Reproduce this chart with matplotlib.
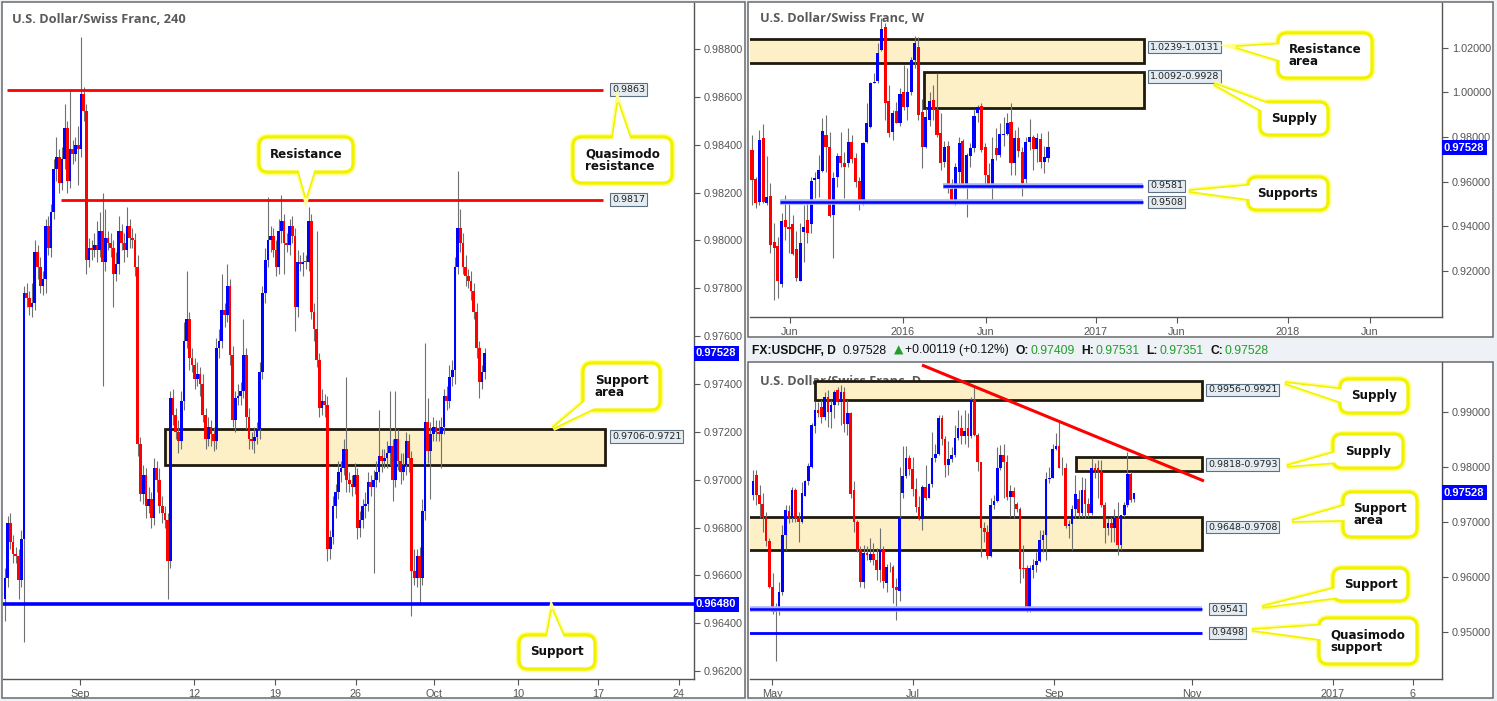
import matplotlib
matplotlib.use("Agg")
import matplotlib.pyplot as plt
import matplotlib.transforms as mtransforms
from matplotlib.patches import Rectangle, FancyBboxPatch, Polygon
from matplotlib.offsetbox import TextArea, HPacker, AnnotationBbox

plt.rcParams["font.family"] = ["Liberation Sans", "DejaVu Sans"]

W, H = 1497, 701
BLUE = "#0000ff"
RED = "#ff0000"
WICK = "#707070"
GRID_TXT = "#555555"
ZONE_FACE = "#fdefc6"
ZONE_EDGE = "#1f1a0e"
GREEN = "#1f9e2a"

# ---------------- 4H data (prices x 1e-4), open of first candle, then closes ----------------
OPEN0_4H = 9650
CLOSE_4H = [
    9659, 9682, 9674, 9669, 9668, 9658, 9675, 9778, 9776, 9772,
    9774, 9795, 9789, 9781, 9784, 9806, 9797, 9812, 9830, 9835,
    9824, 9834, 9847, 9825, 9838, 9836, 9840, 9838, 9861, 9854,
    9792, 9797, 9796, 9798, 9796, 9804, 9791, 9801, 9799, 9797,
    9786, 9790, 9804, 9799, 9796, 9806, 9801, 9800, 9789, 9715,
    9694, 9702, 9689, 9692, 9684, 9705, 9700, 9689, 9686, 9683,
    9666, 9734, 9727, 9720, 9716, 9733, 9758, 9767, 9751, 9748,
    9742, 9744, 9740, 9727, 9717, 9722, 9719, 9716, 9755, 9758,
    9771, 9769, 9781, 9752, 9725, 9734, 9735, 9737, 9752, 9726,
    9717, 9716, 9718, 9721, 9745, 9778, 9792, 9800, 9802, 9796,
    9789, 9804, 9808, 9799, 9798, 9806, 9802, 9772, 9791, 9790,
    9791, 9791, 9808, 9770, 9763, 9750, 9730, 9733, 9731, 9671,
    9676, 9689, 9695, 9703, 9705, 9713, 9700, 9698, 9697, 9702,
    9680, 9683, 9689, 9690, 9699, 9697, 9700, 9703, 9710, 9708,
    9709, 9711, 9714, 9700, 9717, 9708, 9703, 9706, 9716, 9709,
    9662, 9659, 9668, 9659, 9687, 9724, 9712, 9719, 9722, 9720,
    9719, 9722, 9735, 9733, 9743, 9746, 9789, 9805, 9799, 9789,
    9785, 9783, 9779, 9770, 9755, 9741, 9745, 9753,
]
# wick lengths beyond the body, in pips
UPWICK_4H = [
    4, 3, 4, 3, 3, 3, 4, 3, 4, 3, 8, 5, 3, 4, 3, 3, 4, 3, 4, 8,
    3, 5, 10, 3, 25, 4, 3, 8, 24, 3, 3, 4, 3, 5, 10, 8, 16, 12, 3, 4,
    3, 5, 6, 3, 4, 8, 3, 4, 3, 5, 3, 4, 3, 5, 3, 4, 3, 5, 4, 3,
    3, 3, 4, 3, 5, 4, 8, 20, 3, 4, 3, 5, 3, 4, 3, 4, 3, 3, 4, 5,
    15, 3, 9, 3, 4, 3, 5, 4, 15, 3, 4, 3, 4, 3, 4, 3, 5, 18, 4, 3,
    4, 5, 11, 3, 4, 3, 4, 3, 5, 3, 4, 3, 6, 3, 4, 41, 3, 5, 3, 4,
    3, 4, 3, 5, 3, 4, 30, 3, 4, 5, 3, 4, 3, 5, 4, 3, 4, 5, 19, 3,
    4, 5, 23, 3, 20, 4, 3, 5, 4, 3, 3, 9, 3, 4, 5, 33, 10, 5, 4, 3,
    5, 4, 3, 4, 5, 4, 4, 24, 8, 4, 5, 3, 4, 3, 4, 3, 3, 2,
]
DNWICK_4H = [
    9, 4, 3, 4, 3, 8, 3, 43, 4, 3, 4, 3, 5, 3, 4, 6, 3, 4, 3, 5,
    4, 3, 4, 5, 3, 4, 3, 15, 3, 4, 6, 3, 4, 3, 5, 3, 52, 4, 3, 4,
    14, 3, 4, 3, 5, 3, 4, 3, 4, 5, 3, 4, 5, 3, 4, 3, 5, 3, 4, 3,
    16, 3, 4, 3, 5, 3, 4, 3, 5, 3, 4, 3, 5, 3, 4, 3, 5, 4, 3, 4,
    3, 5, 3, 4, 3, 5, 3, 4, 3, 5, 4, 3, 5, 3, 4, 3, 4, 3, 5, 3,
    4, 3, 5, 13, 3, 4, 3, 10, 4, 3, 5, 3, 4, 3, 5, 3, 4, 3, 5, 5,
    4, 3, 5, 3, 4, 3, 5, 3, 4, 3, 5, 4, 3, 5, 3, 4, 36, 3, 4, 5,
    3, 4, 5, 9, 3, 4, 5, 3, 4, 6, 19, 3, 4, 11, 3, 4, 5, 20, 3, 4,
    3, 14, 3, 4, 3, 4, 6, 3, 4, 3, 4, 3, 4, 3, 4, 7, 3, 3,
]
LEVELS_4H_RED = [0.9863, 0.9817]
SUPPORT_4H = 0.9648
ZONE_4H = (0.9706, 0.9721)
LAST_PRICE = 0.97528
TICKS_4H_Y = [0.962, 0.964, 0.966, 0.968, 0.970, 0.972, 0.974, 0.976,
              0.978, 0.980, 0.982, 0.984, 0.986, 0.988]
TICKS_4H_LBL = ["Sep", "12", "19", "26", "Oct", "10", "17", "24"]

# ---------------- Weekly OHLC (x 1e-4) ----------------
W_OPEN = [9742, 9611, 9511, 9794, 9503, 9536, 9332, 9312, 9142, 9429,
          9396, 9411, 9297, 9156, 9376, 9429, 9409, 9608, 9611, 9648,
          9809, 9754, 9451, 9623, 9715, 9685, 9682, 9779, 9705, 9603,
          9503, 9779, 9846, 10043, 10051, 10190, 10291, 9961, 9824, 9918,
          9864, 10003, 9936, 10003, 10145, 10205, 9914, 9757, 9876, 9966,
          9924, 9817, 9690, 9760, 9566, 9511, 9645, 9782, 9578, 9715,
          9749, 9906, 9939, 9757, 9630, 9585, 9750, 9720, 9809, 9814,
          9869, 9682, 9794, 9735, 9611, 9779, 9799, 9745, 9790, 9690,
          9705]
W_HIGH = [9809, 9623, 9832, 9858, 9715, 9593, 9414, 9354, 9458, 9541,
          9503, 9451, 9381, 9414, 9496, 9511, 9623, 9645, 9720, 9884,
          9899, 9824, 9645, 9727, 9824, 9735, 9839, 9809, 9727, 9623,
          9779, 9951, 10048, 10085, 10220, 10333, 10309, 10033, 9920, 9958,
          10018, 10123, 10108, 10160, 10252, 10246, 9969, 9929, 10003, 10033,
          10088, 9909, 9784, 9784, 9611, 9682, 9799, 9790, 9727, 9772,
          9924, 9943, 9954, 9775, 9682, 9802, 9839, 9861, 9891, 9906,
          9951, 9832, 9844, 9757, 9802, 9881, 9809, 9817, 9817, 9760,
          9827]
W_LOW = [9496, 9481, 9496, 9503, 9496, 9279, 9071, 9078, 9130, 9339,
         9279, 9272, 9153, 9153, 9242, 9324, 9369, 9526, 9533, 9645,
         9645, 9444, 9257, 9578, 9667, 9526, 9667, 9682, 9578, 9474,
         9496, 9772, 9839, 10040, 10040, 10187, 9876, 9802, 9787, 9861,
         9849, 9921, 9876, 9988, 10108, 9876, 9660, 9750, 9849, 9876,
         9802, 9652, 9667, 9548, 9510, 9496, 9585, 9570, 9444, 9667,
         9735, 9869, 9735, 9578, 9570, 9518, 9697, 9712, 9760, 9809,
         9630, 9630, 9709, 9536, 9593, 9742, 9650, 9690, 9660, 9641,
         9690]
W_CLOSE = [9608, 9506, 9787, 9511, 9533, 9317, 9302, 9153, 9424, 9396,
           9387, 9275, 9167, 9327, 9399, 9372, 9603, 9615, 9650, 9827,
           9754, 9447, 9618, 9715, 9685, 9667, 9779, 9700, 9600, 9518,
           9772, 9861, 10040, 10048, 10178, 10282, 9951, 9820, 9906, 9864,
           9993, 9936, 10003, 10145, 10223, 9899, 9757, 9891, 9963, 9924,
           9809, 9685, 9757, 9570, 9518, 9667, 9772, 9578, 9720, 9752,
           9894, 9933, 9742, 9630, 9585, 9700, 9720, 9814, 9814, 9861,
           9685, 9794, 9739, 9596, 9779, 9799, 9745, 9794, 9690, 9712,
           9753]
W_ZONES = [(1.0131, 1.0239), (0.9928, 1.0092)]
W_SUPPORTS = [0.9581, 0.9508]
TICKS_W_Y = [0.92, 0.94, 0.96, 0.98, 1.00, 1.02]
TICKS_W_LBL = ["Jun", "2016", "Jun", "2017", "Jun", "2018", "Jun"]

# ---------------- Daily OHLC (x 1e-4) ----------------
D_OPEN = [9749, 9785, 9749, 9732, 9709, 9665, 9582, 9536, 9541, 9573,
          9676, 9720, 9706, 9758, 9707, 9699, 9746, 9774, 9800, 9874,
          9903, 9909, 9891, 9927, 9900, 9913, 9940, 9918, 9936, 9877,
          9897, 9758, 9700, 9649, 9590, 9643, 9630, 9641, 9630, 9612,
          9649, 9588, 9618, 9618, 9582, 9574, 9752, 9783, 9816, 9796,
          9760, 9727, 9705, 9764, 9744, 9768, 9815, 9824, 9889, 9850,
          9803, 9814, 9821, 9852, 9871, 9855, 9871, 9855, 9921, 9858,
          9808, 9688, 9681, 9638, 9730, 9738, 9797, 9821, 9808, 9745,
          9755, 9733, 9724, 9615, 9615, 9538, 9612, 9622, 9628, 9667,
          9675, 9778, 9780, 9833, 9838, 9797, 9797, 9693, 9695, 9723,
          9742, 9715, 9758, 9732, 9715, 9798, 9797, 9790, 9730, 9688,
          9697, 9689, 9706, 9658, 9712, 9730, 9786, 9741]
D_HIGH = [9794, 9794, 9767, 9752, 9718, 9670, 9606, 9552, 9591, 9694,
          9730, 9730, 9764, 9761, 9718, 9773, 9776, 9806, 9879, 9919,
          9918, 9921, 9936, 9939, 9921, 9939, 9945, 9948, 9945, 9921,
          9900, 9774, 9703, 9655, 9658, 9655, 9670, 9661, 9652, 9688,
          9655, 9624, 9627, 9621, 9597, 9800, 9837, 9837, 9821, 9818,
          9779, 9746, 9767, 9804, 9770, 9864, 9842, 9894, 9894, 9855,
          9846, 9836, 9876, 9903, 9894, 9903, 9897, 9927, 9949, 9861,
          9809, 9700, 9694, 9743, 9749, 9836, 9839, 9842, 9821, 9767,
          9764, 9736, 9727, 9658, 9621, 9621, 9633, 9645, 9685, 9685,
          9791, 9800, 9842, 9861, 9885, 9818, 9806, 9703, 9730, 9785,
          9758, 9782, 9779, 9743, 9816, 9806, 9812, 9812, 9736, 9706,
          9709, 9724, 9736, 9712, 9736, 9827, 9791, 9753]
D_LOW = [9740, 9730, 9706, 9682, 9655, 9579, 9533, 9446, 9530, 9567,
         9649, 9697, 9700, 9700, 9664, 9697, 9746, 9767, 9797, 9861,
         9891, 9879, 9885, 9873, 9870, 9888, 9912, 9876, 9864, 9858,
         9743, 9682, 9645, 9582, 9579, 9630, 9627, 9621, 9594, 9591,
         9579, 9573, 9609, 9552, 9521, 9555, 9743, 9779, 9785, 9746,
         9718, 9703, 9685, 9740, 9743, 9764, 9809, 9821, 9839, 9782,
         9785, 9809, 9818, 9849, 9842, 9842, 9836, 9852, 9855, 9792,
         9636, 9664, 9633, 9636, 9724, 9736, 9794, 9743, 9740, 9709,
         9706, 9718, 9588, 9597, 9536, 9536, 9597, 9609, 9627, 9645,
         9630, 9770, 9779, 9830, 9797, 9785, 9688, 9671, 9649, 9706,
         9706, 9709, 9706, 9709, 9712, 9779, 9743, 9727, 9661, 9676,
         9664, 9664, 9640, 9649, 9709, 9727, 9736, 9735]
D_CLOSE = [9774, 9749, 9732, 9709, 9665, 9582, 9536, 9541, 9573, 9676,
           9721, 9706, 9758, 9707, 9699, 9753, 9774, 9801, 9876, 9903,
           9897, 9891, 9927, 9900, 9913, 9936, 9918, 9936, 9877, 9897,
           9750, 9700, 9649, 9590, 9643, 9640, 9641, 9630, 9612, 9649,
           9592, 9618, 9618, 9579, 9576, 9706, 9783, 9816, 9796, 9760,
           9727, 9705, 9764, 9744, 9768, 9815, 9824, 9889, 9850, 9804,
           9814, 9821, 9852, 9871, 9855, 9865, 9855, 9921, 9858, 9808,
           9688, 9681, 9638, 9730, 9738, 9797, 9821, 9808, 9745, 9755,
           9745, 9724, 9614, 9614, 9538, 9615, 9622, 9628, 9667, 9675,
           9778, 9780, 9833, 9838, 9798, 9798, 9693, 9695, 9723, 9750,
           9715, 9758, 9732, 9715, 9798, 9792, 9790, 9730, 9688, 9697,
           9689, 9706, 9658, 9712, 9730, 9786, 9740, 9753]
D_ZONES = [(0.9921, 0.9956), (0.9793, 0.9818), (0.9648, 0.9708)]
D_SUPPORTS = [0.9541, 0.9498]
TREND_IDX = [51.9, 138.5]
TREND_PRICE = [0.99849, 0.9774]
TICKS_D_Y = [0.95, 0.96, 0.97, 0.98, 0.99]
TICKS_D_LBL = ["May", "Jul", "Sep", "Nov", "2017", "6"]


def px(v):
    return [x / 10000 for x in v]


fig = plt.figure(figsize=(W / 100, H / 100), dpi=100, facecolor="#eef1f5")

# white panel backgrounds
bg = fig.add_axes([0, 0, 1, 1])
bg.set_xlim(0, W)
bg.set_ylim(H, 0)
bg.axis("off")
bg.set_zorder(0)
PANELS = [(2, 2, 745, 698), (748, 2, 1493, 337), (748, 362, 1493, 698)]
for x0, y0, x1, y1 in PANELS:
    bg.add_patch(Rectangle((x0, y0), x1 - x0, y1 - y0, fc="white", ec="none"))


def panel_axes(x0, y0, x1, y1):
    ax = fig.add_axes([x0 / W, 1 - y1 / H, (x1 - x0) / W, (y1 - y0) / H])
    ax.set_facecolor("none")
    ax.set_zorder(1)
    for s in ("left", "top"):
        ax.spines[s].set_visible(False)
    for s in ("right", "bottom"):
        ax.spines[s].set_color(GRID_TXT)
        ax.spines[s].set_linewidth(1.0)
    ax.yaxis.tick_right()
    ax.tick_params(axis="both", direction="out", length=4, width=0.8,
                   color=GRID_TXT, labelcolor=GRID_TXT, labelsize=7.8, pad=3)
    return ax


def candles(ax, o, h, l, c, width):
    xs = list(range(len(c)))
    cols = [BLUE if cc > oo else RED for oo, cc in zip(o, c)]
    hi = [max(a, b, d) for a, b, d in zip(h, o, c)]
    lo = [min(a, b, d) for a, b, d in zip(l, o, c)]
    ax.vlines(xs, lo, hi, color=WICK, lw=0.8, zorder=3)
    bot = [min(oo, cc) for oo, cc in zip(o, c)]
    hgt = [max(abs(cc - oo), 0.00004) for oo, cc in zip(o, c)]
    ax.bar(xs, hgt, bottom=bot, width=width, color=cols, lw=0, zorder=4)


def zone(ax, x0, x1, lo, hi):
    ax.add_patch(Rectangle((x0, lo), x1 - x0, hi - lo, fc=ZONE_FACE,
                           ec=ZONE_EDGE, lw=2.0, zorder=2))


def level_label(ax, x, y, s):
    ax.text(x, y, s, fontsize=6.8, family="DejaVu Sans", color="#222222",
            ha="left", va="center", zorder=7,
            bbox=dict(boxstyle="square,pad=0.18", fc="#e4ecf2", ec="#5c7080", lw=0.8))


def price_box(ax, y, s, dx=2):
    tr = mtransforms.blended_transform_factory(ax.transAxes, ax.transData)
    tr = mtransforms.offset_copy(tr, fig=fig, x=dx, y=0, units="dots")
    ax.text(1.0, y, s, transform=tr, fontsize=8, fontweight="bold", color="white",
            ha="left", va="center", zorder=8, clip_on=False,
            bbox=dict(boxstyle="square,pad=0.22", fc=BLUE, ec=BLUE, lw=0))


def title(ax, box, x, y, s):
    x0, y0, x1, y1 = box
    ax.text((x - x0) / (x1 - x0), 1 - (y - y0) / (y1 - y0), s, transform=ax.transAxes,
            fontsize=9.2, fontweight="bold", family="Open Sans", color="#5a5a5a",
            ha="left", va="center", zorder=1)


# ---------------- left panel: 4H ----------------
BOX_L = (3, 3, 694, 679)
X0_L, DX_L = 5, 2.71
axL = panel_axes(*BOX_L)
o4 = [OPEN0_4H] + CLOSE_4H[:-1]
h4 = [max(a, b) + u for a, b, u in zip(o4, CLOSE_4H, UPWICK_4H)]
l4 = [min(a, b) - d for a, b, d in zip(o4, CLOSE_4H, DNWICK_4H)]
candles(axL, px(o4), px(h4), px(l4), px(CLOSE_4H), 1.0)
axL.set_xlim((BOX_L[0] - X0_L) / DX_L, (BOX_L[2] - X0_L) / DX_L)
axL.set_ylim(0.96167, 0.98992)
axL.set_yticks(TICKS_4H_Y)
axL.set_yticklabels([f"{v:.5f}" for v in TICKS_4H_Y])
tick_px_L = [80, 194, 275, 356, 434, 518, 598, 679]
axL.set_xticks([(p - X0_L) / DX_L for p in tick_px_L])
axL.set_xticklabels(TICKS_4H_LBL)
i_l = lambda p: (p - X0_L) / DX_L
zone(axL, i_l(165), i_l(605), *ZONE_4H)
axL.hlines(LEVELS_4H_RED[0], i_l(7), i_l(603), color=RED, lw=2.0, zorder=5)
axL.hlines(LEVELS_4H_RED[1], i_l(61), i_l(603), color=RED, lw=2.0, zorder=5)
axL.axhline(SUPPORT_4H, color=BLUE, lw=2.6, zorder=5)
level_label(axL, i_l(612), LEVELS_4H_RED[0], "0.9863")
level_label(axL, i_l(612), LEVELS_4H_RED[1], "0.9817")
level_label(axL, i_l(612), 0.9718, "0.9706-0.9721")
price_box(axL, LAST_PRICE, "0.97528")
price_box(axL, SUPPORT_4H, "0.96480")
title(axL, BOX_L, 12, 19, "U.S. Dollar/Swiss Franc, 240")

# ---------------- top right: weekly ----------------
BOX_W = (750, 3, 1442, 317)
X0_W, DX_W = 752, 3.7
axW = panel_axes(*BOX_W)
candles(axW, px(W_OPEN), px(W_HIGH), px(W_LOW), px(W_CLOSE), 0.85)
axW.set_xlim((BOX_W[0] - X0_W) / DX_W, (BOX_W[2] - X0_W) / DX_W)
axW.set_ylim(0.8994, 1.0400)
axW.set_yticks(TICKS_W_Y)
axW.set_yticklabels([f"{v:.5f}" for v in TICKS_W_Y])
tick_px_W = [790, 903, 986, 1096, 1177, 1288, 1370]
axW.set_xticks([(p - X0_W) / DX_W for p in tick_px_W])
axW.set_xticklabels(TICKS_W_LBL)
i_w = lambda p: (p - X0_W) / DX_W
zone(axW, i_w(746), i_w(1144), *W_ZONES[0])
zone(axW, i_w(924), i_w(1144), *W_ZONES[1])
for lvl, start in zip(W_SUPPORTS, (943, 780)):
    axW.hlines(lvl, i_w(start), i_w(1143), color="#a9b4ff", lw=4.0, zorder=5)
    axW.hlines(lvl, i_w(start), i_w(1143), color=BLUE, lw=1.8, zorder=5)
level_label(axW, i_w(1150), 1.0202, "1.0239-1.0131")
level_label(axW, i_w(1150), 1.0071, "1.0092-0.9928")
level_label(axW, i_w(1150), W_SUPPORTS[0], "0.9581")
level_label(axW, i_w(1150), W_SUPPORTS[1], "0.9508")
price_box(axW, LAST_PRICE, "0.97528")
title(axW, BOX_W, 760, 19, "U.S. Dollar/Swiss Franc, W")

# ---------------- bottom right: daily ----------------
BOX_D = (750, 362, 1442, 679)
X0_D, DX_D = 753, (1134 - 753) / 117
axD = panel_axes(*BOX_D)
title(axD, BOX_D, 760, 381, "U.S. Dollar/Swiss Franc, D")
candles(axD, px(D_OPEN), px(D_HIGH), px(D_LOW), px(D_CLOSE), 0.8)
axD.set_xlim((BOX_D[0] - X0_D) / DX_D, (BOX_D[2] - X0_D) / DX_D)
axD.set_ylim(0.9414, 0.99904)
axD.set_yticks(TICKS_D_Y)
axD.set_yticklabels([f"{v:.5f}" for v in TICKS_D_Y])
tick_px_D = [772, 913, 1054, 1192, 1333, 1413]
axD.set_xticks([(p - X0_D) / DX_D for p in tick_px_D])
axD.set_xticklabels(TICKS_D_LBL)
i_d = lambda p: (p - X0_D) / DX_D
zone(axD, i_d(815), i_d(1202), *D_ZONES[0])
zone(axD, i_d(1076), i_d(1202), *D_ZONES[1])
zone(axD, i_d(746), i_d(1202), *D_ZONES[2])
axD.hlines(D_SUPPORTS[0], i_d(746), i_d(1202), color="#a9b4ff", lw=4.0, zorder=5)
axD.hlines(D_SUPPORTS[0], i_d(746), i_d(1202), color=BLUE, lw=1.8, zorder=5)
axD.hlines(D_SUPPORTS[1], i_d(746), i_d(1202), color=BLUE, lw=2.0, zorder=5)
axD.plot(TREND_IDX, TREND_PRICE, color=RED, lw=2.2, zorder=6, solid_capstyle="butt")
level_label(axD, i_d(1208), 0.9940, "0.9956-0.9921")
level_label(axD, i_d(1208), 0.9804, "0.9818-0.9793")
level_label(axD, i_d(1208), 0.9690, "0.9648-0.9708")
level_label(axD, i_d(1211), D_SUPPORTS[0], "0.9541")
level_label(axD, i_d(1211), D_SUPPORTS[1], "0.9498")
price_box(axD, LAST_PRICE, "0.97528")

# ---------------- overlay: borders, header, callouts ----------------
ov = fig.add_axes([0, 0, 1, 1])
ov.set_xlim(0, W)
ov.set_ylim(H, 0)
ov.axis("off")
ov.set_zorder(10)
for x0, y0, x1, y1 in PANELS:
    ov.add_patch(Rectangle((x0, y0), x1 - x0, y1 - y0, fc="none", ec="#6a6a6a", lw=1.1))


def callout(text, box, base, tip):
    x0, y0, x1, y1 = box
    tail = [base[0], tip, base[1]]
    for lw, col in ((4.6, "#ffff90"), (2.4, "#f2f200")):
        ov.add_patch(Polygon(tail, closed=True, fc="white", ec=col, lw=lw, joinstyle="miter"))
        ov.add_patch(FancyBboxPatch((x0, y0), x1 - x0, y1 - y0,
                                    boxstyle="round,pad=0,rounding_size=9",
                                    fc="white", ec=col, lw=lw))
    ov.add_patch(Polygon(tail, closed=True, fc="white", ec="none"))
    ov.add_patch(FancyBboxPatch((x0 + 2, y0 + 2), x1 - x0 - 4, y1 - y0 - 4,
                                boxstyle="round,pad=0,rounding_size=7",
                                fc="white", ec="none"))
    ov.text((x0 + x1) / 2, (y0 + y1) / 2, text, fontsize=8.6, fontweight="bold",
            family="DejaVu Sans", color="#111111", ha="center", va="center",
            multialignment="left", linespacing=0.95)


callout("Resistance", (259, 137, 353, 172), [(297, 165), (316, 165)], (306, 197))
callout("Quasimodo\nresistance", (573, 137, 672, 183), [(612, 144), (632, 144)], (618, 103))
callout("Support\narea", (583, 363, 660, 410), [(591, 396), (603, 404)], (553, 428))
callout("Support", (519, 635, 595, 669), [(546, 642), (566, 642)], (552, 610))

callout("Resistance\narea", (1278, 33, 1372, 78), [(1285, 44), (1285, 62)], (1236, 47))
callout("Supply", (1260, 102, 1328, 135), [(1266, 113), (1277, 107)], (1214, 84))
callout("Supports", (1248, 177, 1328, 210), [(1255, 185), (1255, 200)], (1189, 191))

callout("Supply", (1340, 379, 1408, 413), [(1347, 390), (1347, 404)], (1285, 383))
callout("Supply", (1333, 434, 1403, 468), [(1340, 451), (1340, 462)], (1287, 466))
callout("Support\narea", (1343, 492, 1417, 537), [(1350, 504), (1350, 520)], (1292, 521))
callout("Support", (1333, 568, 1408, 601), [(1340, 587), (1340, 597)], (1262, 607))
callout("Quasimodo\nsupport", (1319, 618, 1417, 664), [(1326, 625), (1326, 640)], (1252, 630))

# header line of the daily chart
HDR = dict(fontsize=8.7)


def ta(s, **kw):
    p = dict(HDR)
    p.update(kw)
    return TextArea(s, textprops=p)


pair = lambda k, v: HPacker(children=[ta(k, fontweight="bold", color="#111"),
                                      ta(v, color=GREEN)], sep=1, pad=0)
header = HPacker(children=[
    ta("FX:USDCHF, D", fontweight="bold", color="#111"),
    ta("0.97528", color="#111"),
    HPacker(children=[ta("\u25B2", color=GREEN, family="DejaVu Sans"),
                      ta("+0.00119 (+0.12%)", color="#111")], sep=1, pad=0),
    pair("O:", "0.97409"), pair("H:", "0.97531"),
    pair("L:", "0.97351"), pair("C:", "0.97528"),
], sep=5, pad=0)
ab = AnnotationBbox(header, (752, H - 350), xycoords="figure pixels",
                    box_alignment=(0, 0.5), frameon=False)
ov.add_artist(ab)

fig.savefig("out.png", dpi=100, facecolor=fig.get_facecolor())
